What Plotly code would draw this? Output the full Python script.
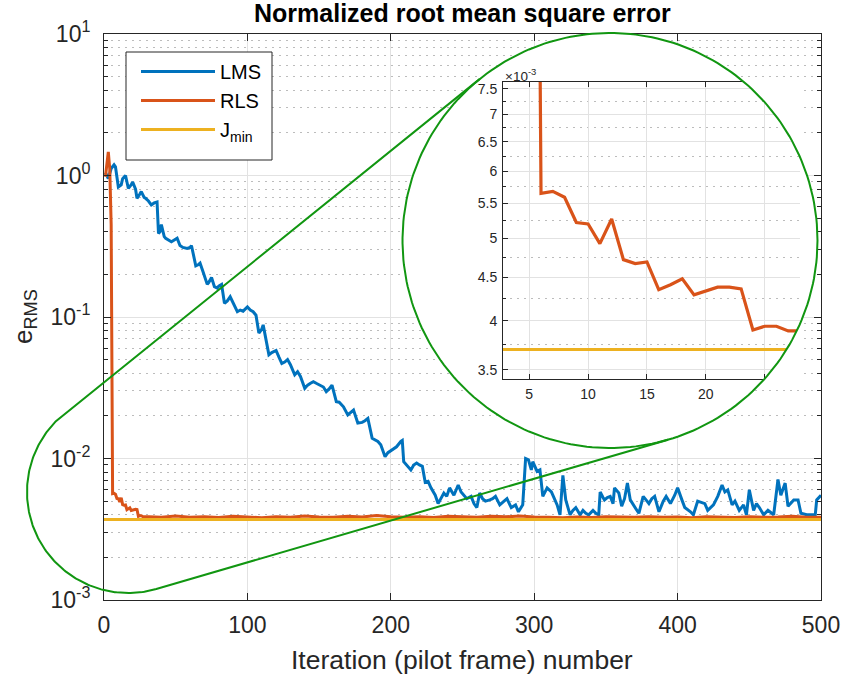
import math
import plotly.graph_objects as go

W, H = 843, 679

# ---------------- data ----------------
lms_iter = [1, 3, 5, 7, 8, 10, 12, 13, 15, 17,
            19, 20, 22, 23, 25, 26, 28, 29, 31, 33,
            35, 37, 38, 39, 40, 42, 43, 45, 47, 49,
            51, 53, 55, 58, 60, 61, 62, 64, 66, 67,
            69, 72, 73, 75, 77, 79, 80, 82, 84, 86,
            88, 90, 93, 95, 97, 100, 102, 104, 106, 108,
            110, 111, 113, 115, 117, 120, 122, 124, 126, 128,
            130, 133, 135, 137, 140, 142, 144, 146, 148, 150,
            153, 155, 157, 159, 162, 164, 167, 170, 172, 174,
            177, 180, 182, 184, 187, 189, 191, 193, 196, 198,
            201, 204, 207, 208, 209, 212, 214, 216, 218, 220,
            222, 224, 226, 228, 231, 233, 235, 237, 239, 241,
            244, 247, 249, 251, 253, 256, 258, 260, 262, 264,
            266, 269, 271, 273, 276, 278, 281, 284, 287, 289,
            291, 292, 294, 296, 298, 299, 302, 304, 306, 309,
            312, 314, 316, 318, 320, 322, 325, 327, 329, 332,
            334, 336, 338, 341, 343, 345, 346, 348, 349, 351,
            353, 355, 356, 359, 361, 363, 365, 367, 369, 371,
            373, 376, 378, 380, 382, 384, 387, 390, 392, 395,
            398, 400, 403, 405, 409, 411, 414, 417, 419, 421,
            425, 428, 431, 433, 435, 438, 440, 443, 446, 448,
            450, 453, 455, 457, 460, 463, 467, 470, 472, 475,
            477, 481, 484, 486, 490, 494, 496, 497, 500]
lms_val = [1.05, 0.95, 1.12, 1.19, 1.15, 0.83, 0.86, 0.95, 1.00, 0.81,
           0.86, 0.90, 0.80, 0.69, 0.74, 0.77, 0.70, 0.69, 0.66, 0.62,
           0.64, 0.65, 0.39, 0.40, 0.45, 0.37, 0.36, 0.35, 0.34, 0.35,
           0.36, 0.32, 0.31, 0.305, 0.31, 0.32, 0.28, 0.23, 0.235, 0.24,
           0.21, 0.17, 0.175, 0.19, 0.164, 0.16, 0.165, 0.17, 0.125, 0.13,
           0.139, 0.125, 0.109, 0.112, 0.110, 0.118, 0.112, 0.109, 0.103, 0.077,
           0.082, 0.088, 0.070, 0.054, 0.056, 0.058, 0.052, 0.047, 0.048, 0.050,
           0.046, 0.039, 0.041, 0.038, 0.0313, 0.033, 0.034, 0.0349, 0.034, 0.033,
           0.032, 0.0297, 0.031, 0.033, 0.0252, 0.025, 0.0232, 0.0203, 0.021, 0.022,
           0.0178, 0.018, 0.0185, 0.0192, 0.0139, 0.0135, 0.0132, 0.0125, 0.0103, 0.011,
           0.0115, 0.0121, 0.0132, 0.0134, 0.0095, 0.0088, 0.0083, 0.009, 0.0093, 0.009,
           0.0088, 0.0068, 0.0069, 0.0062, 0.0055, 0.0048, 0.0052, 0.0057, 0.0054, 0.0062,
           0.0055, 0.0065, 0.0058, 0.0055, 0.0052, 0.0054, 0.0048, 0.0045, 0.0057, 0.0052,
           0.0050, 0.0051, 0.0052, 0.0054, 0.0047, 0.0049, 0.0052, 0.0045, 0.0047, 0.0042,
           0.0045, 0.0047, 0.0100, 0.0098, 0.0083, 0.0095, 0.0081, 0.0083, 0.0054, 0.0062,
           0.0058, 0.0052, 0.0047, 0.0040, 0.0076, 0.0051, 0.0040, 0.0043, 0.0045, 0.0040,
           0.0043, 0.0041, 0.0040, 0.0043, 0.0041, 0.0040, 0.0058, 0.0053, 0.0051, 0.0053,
           0.0054, 0.0048, 0.0062, 0.0057, 0.0046, 0.0052, 0.0067, 0.0051, 0.0047, 0.0044,
           0.0041, 0.0054, 0.0051, 0.0048, 0.0052, 0.0054, 0.0042, 0.0050, 0.0054, 0.0048,
           0.0055, 0.0062, 0.0051, 0.0045, 0.0042, 0.0040, 0.0050, 0.0049, 0.0048, 0.0043,
           0.0047, 0.0054, 0.0065, 0.0058, 0.0060, 0.0047, 0.0050, 0.0043, 0.0047, 0.0040,
           0.0060, 0.0043, 0.0048, 0.0045, 0.0040, 0.0043, 0.0040, 0.0071, 0.0055, 0.0067,
           0.0046, 0.0051, 0.0051, 0.0041, 0.0040, 0.0040, 0.0040, 0.0051, 0.0055]

rls_iter = [1, 2, 3, 4, 5, 6, 7, 8, 9, 10,
            11, 12, 13, 14, 15, 16, 17, 18, 19, 20,
            21, 22, 23, 24, 25, 26, 27, 28,
            30, 40, 50, 60, 70, 80, 90, 100, 110, 120,
            130, 140, 150, 160, 170, 180, 190, 200, 210, 220,
            230, 240, 250, 260, 270, 280, 290, 300, 310, 320,
            330, 340, 350, 360, 370, 380, 390, 400, 410, 420,
            430, 440, 450, 460, 470, 480, 490, 500]
rls_val = [0.98, 1.25, 1.47, 1.12, 0.45, 5.65e-3, 5.68e-3, 5.59e-3, 5.22e-3, 5.20e-3,
           4.93e-3, 5.27e-3, 4.72e-3, 4.67e-3, 4.69e-3, 4.35e-3, 4.41e-3, 4.48e-3, 4.29e-3, 4.33e-3,
           4.38e-3, 4.38e-3, 4.36e-3, 3.90e-3, 3.94e-3, 3.94e-3, 3.89e-3, 3.89e-3,
           3.87e-3, 3.85e-3, 3.92e-3, 3.84e-3, 3.88e-3, 3.83e-3, 3.90e-3, 3.86e-3, 3.82e-3, 3.88e-3,
           3.85e-3, 3.93e-3, 3.86e-3, 3.84e-3, 3.90e-3, 3.86e-3, 3.95e-3, 3.88e-3, 3.84e-3, 3.87e-3,
           3.83e-3, 3.91e-3, 3.86e-3, 3.85e-3, 3.90e-3, 3.87e-3, 3.93e-3, 3.86e-3, 3.84e-3, 3.82e-3,
           3.86e-3, 3.83e-3, 3.88e-3, 3.85e-3, 3.84e-3, 3.87e-3, 3.84e-3, 3.86e-3, 3.82e-3, 3.88e-3,
           3.85e-3, 3.83e-3, 3.87e-3, 3.84e-3, 3.86e-3, 3.90e-3, 3.85e-3, 3.84e-3]

jmin_iter = [0, 500]
jmin_val = [3.70e-3, 3.70e-3]

assert len(lms_iter) == len(lms_val)
assert len(rls_iter) == len(rls_val)

main_xticks = [0, 100, 200, 300, 400, 500]
main_yticks = [1e-3, 1e-2, 1e-1, 1e0, 1e1]
main_yticktext = ["10<sup>-3</sup>", "10<sup>-2</sup>", "10<sup>-1</sup>",
                  "10<sup>0</sup>", "10<sup>1</sup>"]
inset_xticks = [5, 10, 15, 20, 25]
inset_xticktext = ["5", "10", "15", "20", ""]
inset_yticks = [3.5e-3, 4e-3, 4.5e-3, 5e-3, 5.5e-3, 6e-3, 6.5e-3, 7e-3, 7.5e-3]
inset_yticktext = ["3.5", "4", "4.5", "5", "5.5", "6", "6.5", "7", "7.5"]
inset_yminor = [3.75e-3, 4.25e-3, 4.75e-3, 5.25e-3, 5.75e-3, 6.25e-3, 6.75e-3, 7.25e-3]

# ---------------- styling / geometry (page pixels) ----------------
C_LMS, C_RLS, C_JMIN = "#0072BD", "#D95319", "#EDB120"
GREEN = "#119611"
AX = "#262626"
GRID = "#e2e2e2"
MINOR_GRID = "#bcbcbc"
FONT = "Liberation Sans, Arial, Helvetica, sans-serif"

MAIN_L, MAIN_R, MAIN_T, MAIN_B = 104, 821, 34, 600
IN_L, IN_R, IN_T, IN_B = 503, 800, 82, 379
LEG_L, LEG_R, LEG_T, LEG_B = 126, 272, 52, 160
BIG_C, BIG_R = (610.0, 240.5), 207.5
SMALL_C, SMALL_R = (128.0, 492.0), 101.0


def fx(p):
    return p / W


def fy(p):
    return 1 - p / H


def arc(c, r, a0, a1, n=120):
    xs, ys = [], []
    for i in range(n):
        a = a0 + (a1 - a0) * i / (n - 1)
        xs.append(c[0] + r * math.cos(a))
        ys.append(c[1] + r * math.sin(a))
    return xs, ys


fig = go.Figure()

# main traces
fig.add_trace(go.Scatter(x=lms_iter, y=lms_val, mode="lines", name="LMS",
                         line=dict(color=C_LMS, width=3), xaxis="x", yaxis="y"))
fig.add_trace(go.Scatter(x=rls_iter, y=rls_val, mode="lines", name="RLS",
                         line=dict(color=C_RLS, width=3), xaxis="x", yaxis="y"))
fig.add_trace(go.Scatter(x=jmin_iter, y=jmin_val, mode="lines", name="J<sub>min</sub>",
                         line=dict(color=C_JMIN, width=3), xaxis="x", yaxis="y"))

# legend box (white, framed) drawn above the main grid
fig.add_trace(go.Scatter(x=[LEG_L, LEG_R, LEG_R, LEG_L, LEG_L],
                         y=[LEG_T, LEG_T, LEG_B, LEG_B, LEG_T],
                         mode="lines", fill="toself", fillcolor="white",
                         line=dict(width=1, color=AX), showlegend=False,
                         hoverinfo="skip", xaxis="x2", yaxis="y2"))

# white disc behind the magnified view
cx, cy = arc(BIG_C, BIG_R, 0, 2 * math.pi, 240)
fig.add_trace(go.Scatter(x=cx, y=cy, mode="lines", fill="toself", fillcolor="white",
                         line=dict(width=0, color="white"), showlegend=False,
                         hoverinfo="skip", xaxis="x2", yaxis="y2"))

# inset traces
fig.add_trace(go.Scatter(x=rls_iter, y=rls_val, mode="lines", showlegend=False,
                         line=dict(color=C_RLS, width=3.2), xaxis="x3", yaxis="y3"))
fig.add_trace(go.Scatter(x=jmin_iter, y=jmin_val, mode="lines", showlegend=False,
                         line=dict(color=C_JMIN, width=3), xaxis="x3", yaxis="y3"))

# mask: parts of the inset box lying outside the disc
p = 2.0
bx, by = BIG_C
yt = IN_T - p
xt = bx + math.sqrt(BIG_R ** 2 - (yt - by) ** 2)
a_t = math.atan2(yt - by, xt - bx)
xr = IN_R + p
yr_up = by - math.sqrt(BIG_R ** 2 - (xr - bx) ** 2)
a_r_up = math.atan2(yr_up - by, xr - bx)
ux, uy = arc(BIG_C, BIG_R, a_t, a_r_up, 60)
ux += [xr, xt]
uy += [yt, yt]
yr_lo = by + math.sqrt(BIG_R ** 2 - (xr - bx) ** 2)
a_r_lo = math.atan2(yr_lo - by, xr - bx)
yb = IN_B + p
xb = bx + math.sqrt(BIG_R ** 2 - (yb - by) ** 2)
a_b = math.atan2(yb - by, xb - bx)
lx, ly = arc(BIG_C, BIG_R, a_r_lo, a_b, 60)
lx += [xr, xr]
ly += [yb, yr_lo]
fig.add_trace(go.Scatter(x=ux + [ux[0], None] + lx + [lx[0]],
                         y=uy + [uy[0], None] + ly + [ly[0]],
                         mode="lines", fill="toself", fillcolor="white",
                         line=dict(width=0, color="white"), showlegend=False,
                         hoverinfo="skip", xaxis="x4", yaxis="y4"))

# green outline: small source circle + tangent lines, and the magnifier circle
dx, dy = BIG_C[0] - SMALL_C[0], BIG_C[1] - SMALL_C[1]
d = math.hypot(dx, dy)
base = math.atan2(dy, dx)
theta = math.acos((SMALL_R - BIG_R) / d)
a_up, a_lo = base - theta, base + theta
sx, sy = arc(SMALL_C, SMALL_R, a_up, a_lo - 2 * math.pi, 160)
hx = [BIG_C[0] + BIG_R * math.cos(a_up)] + sx + [BIG_C[0] + BIG_R * math.cos(a_lo)]
hy = [BIG_C[1] + BIG_R * math.sin(a_up)] + sy + [BIG_C[1] + BIG_R * math.sin(a_lo)]
fig.add_trace(go.Scatter(x=hx, y=hy, mode="lines", line=dict(color=GREEN, width=2),
                         showlegend=False, hoverinfo="skip", xaxis="x4", yaxis="y4"))
fig.add_trace(go.Scatter(x=cx, y=cy, mode="lines", line=dict(color=GREEN, width=2),
                         showlegend=False, hoverinfo="skip", xaxis="x4", yaxis="y4"))

common = dict(showline=True, linecolor=AX, linewidth=1, ticks="inside", tickcolor=AX,
              tickwidth=1, zeroline=False, automargin=False)
pix = dict(domain=[0, 1], visible=False, fixedrange=True, automargin=False)

fig.update_layout(
    template="none",
    width=W, height=H, autosize=False,
    margin=dict(l=0, r=0, t=0, b=0, pad=0, autoexpand=False),
    paper_bgcolor="white", plot_bgcolor="rgba(0,0,0,0)",
    font=dict(family=FONT, color=AX),
    xaxis=dict(domain=[fx(MAIN_L), fx(MAIN_R)], range=[0, 500], anchor="y",
               tickmode="array", tickvals=main_xticks, mirror="ticks", ticklen=7,
               showgrid=True, gridcolor=GRID, gridwidth=1,
               tickfont=dict(family=FONT, size=23, color=AX), ticklabelstandoff=4,
               **common),
    yaxis=dict(type="log", domain=[fy(MAIN_B), fy(MAIN_T)], range=[-3, 1], anchor="x",
               tickmode="array", tickvals=main_yticks, ticktext=main_yticktext,
               mirror="ticks", ticklen=7, showgrid=True, gridcolor=GRID, gridwidth=1,
               tickfont=dict(family=FONT, size=23, color=AX), ticklabelstandoff=8,
               minor=dict(tickmode="array",
                          tickvals=[m * 10.0 ** e for e in range(-3, 1) for m in range(2, 10)],
                          ticks="inside", ticklen=4, tickcolor=AX, showgrid=True,
                          gridcolor=MINOR_GRID, griddash="2px,5px", gridwidth=1),
               **common),
    xaxis2=dict(range=[0, W], anchor="y2", **pix),
    yaxis2=dict(range=[H, 0], anchor="x2", **pix),
    xaxis3=dict(domain=[fx(IN_L), fx(IN_R)], range=[2.77, 28.0], anchor="y3",
                tickmode="array", tickvals=inset_xticks, ticktext=inset_xticktext,
                mirror="ticks", ticklen=5, showgrid=True, gridcolor=GRID,
                tickfont=dict(family=FONT, size=14, color=AX), ticklabelstandoff=2,
                **common),
    yaxis3=dict(type="log", domain=[fy(IN_B), fy(IN_T)],
                range=[math.log10(3.415e-3), math.log10(7.64e-3)], anchor="x3",
                tickmode="array", tickvals=inset_yticks, ticktext=inset_yticktext,
                mirror=False, ticklen=5, showgrid=True, gridcolor=GRID,
                tickfont=dict(family=FONT, size=14, color=AX), ticklabelstandoff=2,
                minor=dict(tickmode="array", tickvals=inset_yminor, ticks="inside",
                           ticklen=3, tickcolor=AX, showgrid=True, gridcolor=MINOR_GRID,
                           griddash="2px,5px", gridwidth=1),
                **common),
    xaxis4=dict(range=[0, W], anchor="y4", **pix),
    yaxis4=dict(range=[H, 0], anchor="x4", **pix),
    legend=dict(x=fx(136), y=fy(LEG_T), xanchor="left", yanchor="top",
                bgcolor="rgba(0,0,0,0)", borderwidth=0,
                font=dict(family=FONT, size=20, color="black"), itemwidth=74,
                tracegroupgap=0),
    showlegend=True,
    annotations=[
        dict(text="<b>Normalized root mean square error</b>", x=fx(462.5), y=fy(13),
             xref="paper", yref="paper", xanchor="center", yanchor="middle",
             showarrow=False, font=dict(family=FONT, size=25, color="black")),
        dict(text="Iteration (pilot frame) number", x=fx(462.5), y=fy(660),
             xref="paper", yref="paper", xanchor="center", yanchor="middle",
             showarrow=False, font=dict(family=FONT, size=26.5, color=AX)),
        dict(text="e<sub>RMS</sub>", x=fx(24), y=fy(317), textangle=-90,
             xref="paper", yref="paper", xanchor="center", yanchor="middle",
             showarrow=False, font=dict(family=FONT, size=26, color=AX)),
        dict(text="×10<sup>-3</sup>", x=fx(503), y=fy(75),
             xref="paper", yref="paper", xanchor="left", yanchor="middle",
             showarrow=False, font=dict(family=FONT, size=13.5, color=AX)),
    ],
)

# the page body normally has an 8px margin; remove it so the figure fills the window
fig.write_html("out.html",
               config={"displayModeBar": False, "staticPlot": True},
               post_script="document.body.style.margin='0';"
                           "document.body.style.overflow='hidden';")
